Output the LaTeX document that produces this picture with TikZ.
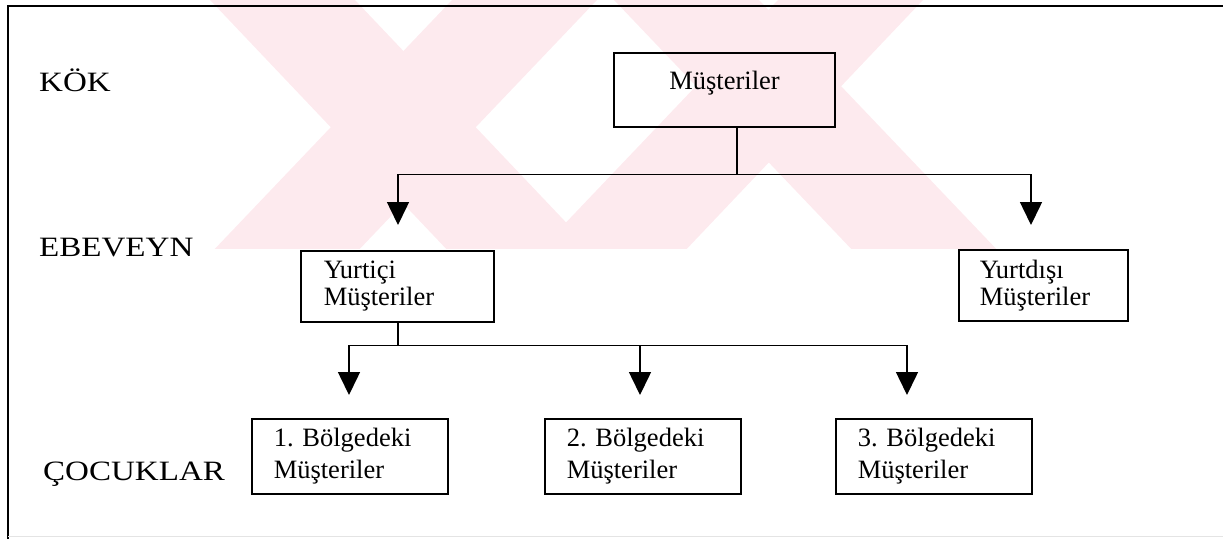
\documentclass[tikz,border=0pt]{standalone}
\usepackage{fontspec}
\setmainfont{Liberation Serif}
\usetikzlibrary{arrows.meta}
\definecolor{wmpink}{RGB}{253,234,238}
\definecolor{rulegray}{RGB}{228,228,228}
\begin{document}
\frenchspacing
\begin{tikzpicture}[x=1pt,y=-1pt,
  line/.style={line width=1.5pt},
  arr/.style={line width=1.5pt, -{Triangle[length=23pt,width=22pt]}},
  boxbase/.style={draw, line width=1.5pt, inner ysep=0pt},
  rootbox/.style={boxbase, minimum width=221pt, minimum height=74pt,
    text depth=20pt, font=\fontsize{26.5}{27}\selectfont},
  parentbox/.style={boxbase, align=left, minimum height=71pt,
    font=\fontsize{26.5}{27}\selectfont},
  childbox/.style={boxbase, align=left, minimum height=75pt,
    inner xsep=22pt, text width=152pt, font=\fontsize{26.5}{32}\selectfont},
  level/.style={anchor=base west, inner sep=0pt, font=\fontsize{28}{30}\selectfont}]

\useasboundingbox (0,0) rectangle (1223,539);

% faint background mark
\begin{scope}
  \clip (8,0) rectangle (1223,248);
  \fill[wmpink] (210,0) -- (355,0) -- (597,255) -- (452,255) -- cycle;
  \fill[wmpink] (452,0) -- (597,0) -- (354,255) -- (209,255) -- cycle;
  \fill[wmpink] (614,0) -- (759,0) -- (1002,255) -- (857,255) -- cycle;
  \fill[wmpink] (778,0) -- (923,0) -- (681,255) -- (535,255) -- cycle;
\end{scope}

% page frame
\draw[line width=1.6pt] (8,539) -- (8,6) -- (1223,6);
\draw[rulegray, line width=1pt] (8,536) -- (1223,536);

% level captions
\node[level] (kok) at (39,91) {\scalebox{1.18}[1]{KÖK}};
\node[level] (ebeveyn) at (39,256) {\scalebox{1.18}[1]{EBEVEYN}};
\node[level] (cocuklar) at (43,480) {\scalebox{1.18}[1]{ÇOCUKLAR}};

% boxes
\node[rootbox] (root) at (724.5,90) {Müşteriler};
\node[parentbox, anchor=north west, inner xsep=23pt, text width=147pt]
  (yurtici) at (300,250) {Yurtiçi\\Müşteriler};
\node[parentbox, anchor=north west, inner xsep=21pt, text width=127pt]
  (yurtdisi) at (958,249) {Yurtdışı\\Müşteriler};
\node[childbox, anchor=north west] (b1) at (251,418) {1. Bölgedeki\\Müşteriler};
\node[childbox, anchor=north west] (b2) at (544,418) {2. Bölgedeki\\Müşteriler};
\node[childbox, anchor=north west] (b3) at (835,418) {3. Bölgedeki\\Müşteriler};

% junctions and arrow tips
\coordinate (j1) at (737,174.5);
\coordinate (t1) at (398,225);
\coordinate (t2) at (1031,225);
\coordinate (j2) at (398,345.5);
\coordinate (u1) at (349,395);
\coordinate (u2) at (640,395);
\coordinate (u3) at (907,395);

% connectors
\draw[line] (root.south -| j1) -- (j1);
\draw[arr] (j1) -| (t1);
\draw[arr] (j1) -| (t2);
\draw[line] (yurtici.south -| j2) -- (j2);
\draw[arr] (j2) -| (u1);
\draw[arr] (j2) -| (u2);
\draw[arr] (j2) -| (u3);
\end{tikzpicture}
\end{document}
